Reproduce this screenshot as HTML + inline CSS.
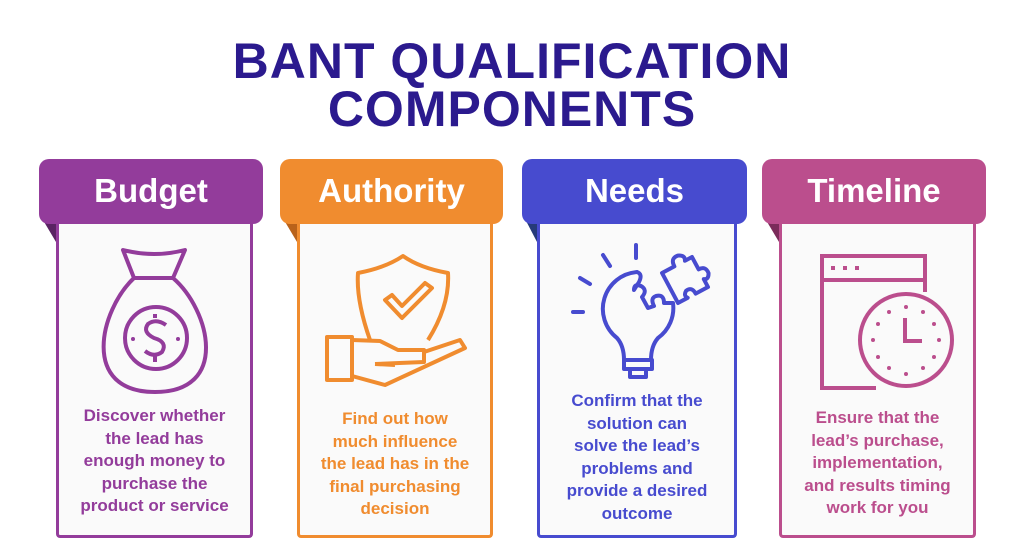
<!DOCTYPE html>
<html><head><meta charset="utf-8"><style>
body{margin:0;width:1024px;height:550px;background:#fff;position:relative;overflow:hidden;font-family:"Liberation Sans",sans-serif}
.t{position:absolute;left:0;width:1024px;text-align:center;color:#2b1a8e;font-weight:900;font-size:50px;letter-spacing:1px;line-height:50px}
.h{position:absolute;height:65px;border-radius:10px;color:#fff;font-weight:bold;font-size:33px;text-align:center;line-height:64px}
.b{position:absolute;top:222px;height:313px;border:3px solid;border-top:none;background:#fafafa;border-radius:0 0 4px 4px}
.p{position:absolute;font-weight:bold;font-size:17px;line-height:22.5px;text-align:center}
</style></head><body>
<div class="t" style="top:36px">BANT QUALIFICATION</div>
<div class="t" style="top:84px">COMPONENTS</div>

<div class="b" style="left:56px;width:191px;border-color:#933c9b"></div>
<div class="b" style="left:297px;width:190px;border-color:#f08c2f"></div>
<div class="b" style="left:537px;width:194px;border-color:#474bcf"></div>
<div class="b" style="left:779px;width:191px;border-color:#bb4e8d"></div>

<svg style="position:absolute;left:0;top:0" width="1024" height="550">
<polygon points="40,215 56,215 56,242" fill="#5a2363"/>
<polygon points="281,215 297,215 297,242" fill="#b9621a"/>
<polygon points="523,215 537,215 537,242" fill="#263a7a"/>
<polygon points="763,215 779,215 779,242" fill="#7b2b5a"/>
<g fill="none" stroke="#933c9b" stroke-width="4" stroke-linejoin="round">
<path d="M123,250 Q154,258 185,250 L173,278 L134,278 Z"/>
<path d="M134,278 C100,310 80,392 155,392 C230,392 210,310 173,278"/>
<circle cx="156" cy="338" r="31"/>
<path d="M166,325 Q156,318 148,324 Q142,332 154,338 Q168,342 162,352 Q154,358 145,351 M155,314 V318 M155,356 V362"/>
</g>
<g fill="#933c9b"><circle cx="133" cy="339" r="2"/><circle cx="178" cy="339" r="2"/></g>
<g fill="none" stroke="#f08c2f" stroke-width="4" stroke-linejoin="round">
<path d="M370,340 Q356,300 358,273 Q385,268 403,256 Q420,268 448,273 Q450,305 428,340"/>
<path d="M385,300 L402,318 L432,288 L425,283 L402,306 L392,295 Z"/>
<rect x="327" y="337" width="25" height="43"/>
<path d="M352,340 L380,341 L398,350 L424,350 L424,362 L375,364 M352,376 L385,385 L465,348 L460,340 L424,352 M375,364 L395,365"/>
</g>
<g fill="none" stroke="#474bcf" stroke-width="4" stroke-linejoin="round" stroke-linecap="round">
<path d="M637,272 A37,37 0 0 0 617,338 Q624,346 624,360 H651 Q651,346 658,338 A37,37 0 0 0 673,303 L664,303 Q664,294 656,296 Q650,298 654,306 L648,308 L642,297 Q648,290 641,286 Q634,283 634,290 L639,282 Q643,274 637,272"/>
<rect x="624" y="360" width="28" height="9"/><rect x="630" y="369" width="16" height="8"/>
<g transform="rotate(-28 685 280)"><path d="M668,263 H682 Q682,254 690,255 Q697,258 694,263 H702 V277 Q710,277 709,285 Q706,291 702,288 V297 H688 Q688,289 681,290 Q676,293 679,297 H668 Z"/></g>
<path d="M573,312 H583 M580,278 L590,284 M603,255 L610,266 M636,245 V258"/>
</g>
<g fill="none" stroke="#bb4e8d" stroke-width="4">
<path d="M876,388 H822 V256 H925 V292 M822,280 H925"/>
<circle cx="906" cy="340" r="46"/>
<path d="M905,318 V341 H922"/>
</g>
<g fill="#bb4e8d"><rect x="831" y="266" width="4" height="4"/><rect x="843" y="266" width="4" height="4"/><rect x="855" y="266" width="4" height="4"/>
<circle cx="906" cy="307" r="2"/><circle cx="906" cy="374" r="2"/><circle cx="873" cy="340" r="2"/><circle cx="939" cy="340" r="2"/>
<circle cx="889" cy="312" r="2"/><circle cx="923" cy="312" r="2"/><circle cx="889" cy="368" r="2"/><circle cx="923" cy="368" r="2"/>
<circle cx="878" cy="324" r="2"/><circle cx="934" cy="324" r="2"/><circle cx="878" cy="357" r="2"/><circle cx="934" cy="357" r="2"/></g>
</svg>

<div class="h" style="left:39px;top:159px;width:224px;background:#933c9b">Budget</div>
<div class="h" style="left:280px;top:159px;width:223px;background:#f08c2f">Authority</div>
<div class="h" style="left:522px;top:159px;width:225px;background:#474bcf">Needs</div>
<div class="h" style="left:762px;top:159px;width:224px;background:#bb4e8d">Timeline</div>

<div class="p" style="left:56px;width:197px;top:405px;color:#933c9b">Discover whether<br>the lead has<br>enough money to<br>purchase the<br>product or service</div>
<div class="p" style="left:297px;width:196px;top:408px;color:#f08c2f">Find out how<br>much influence<br>the lead has in the<br>final purchasing<br>decision</div>
<div class="p" style="left:537px;width:200px;top:390px;color:#474bcf">Confirm that the<br>solution can<br>solve the lead’s<br>problems and<br>provide a desired<br>outcome</div>
<div class="p" style="left:779px;width:197px;top:407px;color:#bb4e8d">Ensure that the<br>lead’s purchase,<br>implementation,<br>and results timing<br>work for you</div>
</body></html>
